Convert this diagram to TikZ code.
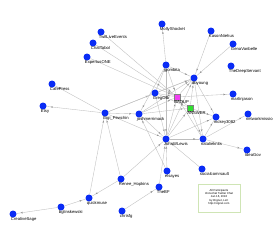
\documentclass[tikz,border=0pt]{standalone}
\usepackage{fontspec}
\setmainfont{Liberation Sans}
\usetikzlibrary{decorations.markings,arrows.meta,backgrounds}
\definecolor{nodeblue}{HTML}{0A2CF5}
\definecolor{edgegray}{HTML}{BDBDBD}
\definecolor{arrgray}{HTML}{939393}
\definecolor{boxgreen}{HTML}{CFE5B5}
\definecolor{sqmag}{HTML}{F040F0}
\definecolor{sqgreen}{HTML}{30E030}
\newcommand\myactor[4]{\node[actor] (#1) at (#2,#3) {};\node[lbl] (#1-l) at (#1.south west) {#4};}
\newcommand\mysquare[5]{\node[sq,fill=#5] (#1) at (#2,#3) {};\node[lbl] (#1-l) at (#1.south west) {#4};}
\begin{document}
\begin{tikzpicture}[x=1pt,y=-1pt,
  actor/.style={circle,fill=nodeblue,inner sep=0pt,minimum size=7pt},
  sq/.style={rectangle,draw=black!50,line width=0.2pt,inner sep=0pt,minimum size=6.5pt},
  lbl/.style={font=\fontsize{4.2}{5}\selectfont,inner sep=0.4pt,anchor=north west},
  edge/.style={draw=edgegray,line width=0.35pt},
  arr/.style={edge,postaction={decorate},decoration={markings,
     mark=at position -4pt with {\arrow{Stealth[length=2.2pt,width=1.7pt,color=arrgray]}}}}]
\useasboundingbox (0,0) rectangle (280,241);
% nodes
\myactor{tle}{101}{32}{TwitLiveEvents}
\myactor{cht}{93}{43}{ChatTabol}
\myactor{exp}{87}{57}{ExpertusONE}
\myactor{mol}{162}{24}{MollyShocket}
\myactor{kas}{211}{31}{KasonNiehus}
\myactor{gen}{233}{44}{GenaVanbelle}
\myactor{jgo}{166}{65}{jgombita}
\myactor{tds}{231}{66}{TheDeepServant}
\myactor{dby}{194}{78}{dbyoung}
\myactor{caf}{52}{84}{CafePress}
\myactor{ets}{43}{106}{Etsy}
\myactor{gre}{155}{93}{GregOBr}
\mysquare{baq}{177}{97}{BAQUP}{sqmag}
\mysquare{ans}{190}{108}{ANSWER}{sqgreen}
\myactor{mar}{233}{94}{martinjason}
\myactor{cig}{105}{113}{Gigi\_Pewchin}
\myactor{jos}{139}{114}{joshmerrimack}
\myactor{mck}{216}{117}{mckey3082}
\myactor{net}{248}{114}{networkmissio}
\myactor{jwl}{166}{139}{JohnWLewis}
\myactor{nat}{203}{139}{natalieknits}
\myactor{ide}{247}{150}{IdeaGov}
\myactor{els}{167}{171}{elsayes}
\myactor{soc}{202}{169}{socialcomrsault}
\myactor{tbf}{159}{187}{TheBF}
\myactor{ren}{121}{179}{Renee\_Hopkins}
\myactor{qui}{89}{198}{quickmuse}
\myactor{bgl}{61}{207}{bglinskewski}
\myactor{cre}{13}{214}{CreativeSage}
\myactor{chr}{122}{211}{chrisfg}
% edges
\begin{pgfonlayer}{background}
\fill[white] (0,0) rectangle (280,241);
\foreach \s/\t in {jgo/mol,kas/dby,gen/dby,tle/baq,cht/baq,exp/baq,cig/caf,cig/ets,
  cig/jos,cig/gre,cig/dby,cig/jwl,qui/cig,ren/cig,ren/qui,bgl/qui,bgl/cre,ren/jwl,
  chr/tbf,tbf/jwl,els/jwl,soc/jwl,gre/baq,gre/dby,gre/ans,gre/jwl,jgo/baq,jgo/dby,
  jgo/jos,jgo/jwl,jgo/gre,jos/baq,jos/jwl,jos/ans,jos/dby,jwl/baq,jwl/ans,jwl/dby,
  jwl/nat,jwl/mck,ans/dby,baq/dby,baq/ans,ans/mck,ans/nat,dby/nat,dby/mck,nat/mck,
  nat/net,nat/ide,baq/mar,nat/baq,els/jos}
  {\draw[arr] (\s) -- (\t);}
\end{pgfonlayer}
% legend
\node[draw=boxgreen,line width=0.9pt,minimum width=42pt,minimum height=28pt,fill=white] (legend) at (219,198) {};
\node[font=\fontsize{2.8}{3.1}\selectfont,align=center,inner sep=0pt] (legtxt) at (219,197.5)
  {All Participants\\\#innochat Twitter Chat\\Jan 16, 2018\\[1pt]by Orgnet, LLC\\http://orgnet.com};
\end{tikzpicture}
\end{document}
